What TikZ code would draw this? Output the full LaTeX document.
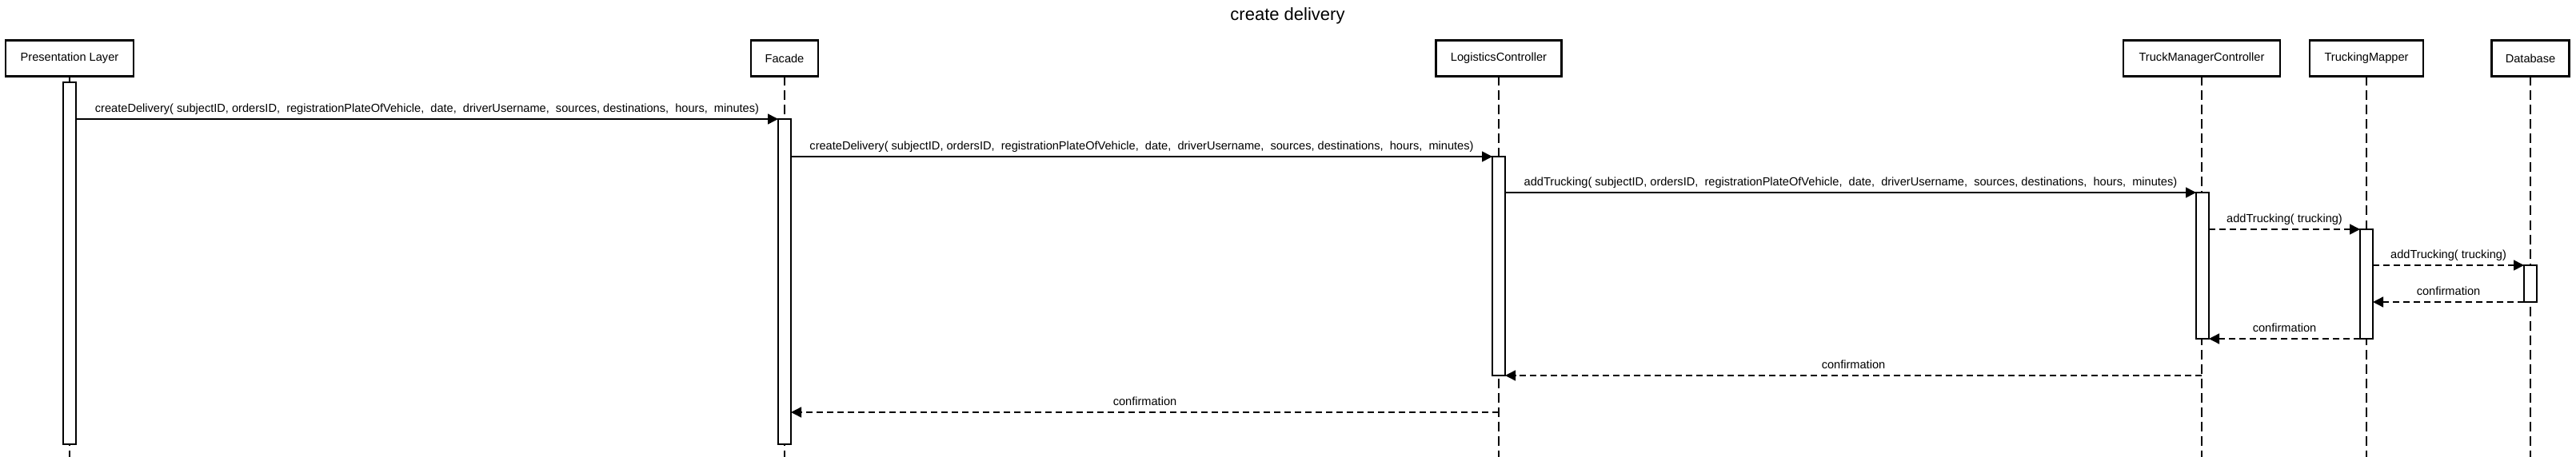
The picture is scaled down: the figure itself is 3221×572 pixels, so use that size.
\documentclass[tikz,border=0pt]{standalone}
\usepackage{fontspec}
\setmainfont{Liberation Sans}
\usetikzlibrary{arrows.meta}

\begin{document}
\begin{tikzpicture}[x=0.5pt,y=-0.5pt,
    party/.style={draw,line width=1.2pt,minimum height=22.5pt,inner sep=0pt,outer sep=0pt,font=\fontsize{7.3}{8}\selectfont},
    lifeline/.style={line width=0.6pt,dash pattern=on 6pt off 3pt},
    act/.style={draw,fill=white,line width=0.7pt,minimum width=8pt,inner sep=0pt,outer sep=0pt,anchor=north},
    call/.style={line width=0.75pt,-{Triangle[length=6.5pt,width=6.5pt]}},
    reply/.style={call,dash pattern=on 4pt off 2.5pt},
    lbl/.style={above,inner sep=1.5pt,text depth=0.25em,font=\fontsize{7.3}{8}\selectfont}]
  \useasboundingbox (0,0) rectangle (3221,572);
  \node[font=\fontsize{11}{13}\selectfont] (title) at (1610,20) {create delivery};
  \node[party,minimum width=80pt] (pl) at (87,73) {Presentation Layer};
  \node[party,minimum width=42pt] (fac) at (981,73) {Facade};
  \node[party,minimum width=78.5pt] (lc) at (1874,73) {LogisticsController};
  \node[party,minimum width=98pt] (tmc) at (2753,73) {TruckManagerController};
  \node[party,minimum width=71pt] (tm) at (2959,73) {TruckingMapper};
  \node[party,minimum width=48.5pt] (db) at (3164,73) {Database};
  \foreach \p in {pl,fac,lc,tmc,tm,db}
    \draw[lifeline] (\p.south) -- (\p.south |- 0,572);
  \node[act,minimum height=226.5pt] (plact) at (87,103) {};
  \node[act,minimum height=203.5pt] (facact) at (981,149) {};
  \node[act,minimum height=137pt] (lcact) at (1874,196) {};
  \node[act,minimum height=91.5pt] (tmcact) at (2754,241) {};
  \node[act,minimum height=68.5pt] (tmact) at (2959,287) {};
  \node[act,minimum height=23pt] (dbact) at (3164,332) {};
  \coordinate (back) at (1874,516);
  \draw[call] (plact.east |- facact.north) -- (facact.north west)
    node[lbl,midway] (m1) {createDelivery( subjectID, ordersID,~ registrationPlateOfVehicle,~ date,~ driverUsername,~ sources, destinations,~ hours,~ minutes)};
  \draw[call] (facact.east |- lcact.north) -- (lcact.north west)
    node[lbl,midway] (m2) {createDelivery( subjectID, ordersID,~ registrationPlateOfVehicle,~ date,~ driverUsername,~ sources, destinations,~ hours,~ minutes)};
  \draw[call] (lcact.east |- tmcact.north) -- (tmcact.north west)
    node[lbl,midway] (m3) {addTrucking( subjectID, ordersID,~ registrationPlateOfVehicle,~ date,~ driverUsername,~ sources, destinations,~ hours,~ minutes)};
  \draw[reply] (tmcact.east |- tmact.north) -- (tmact.north west)
    node[lbl,midway] (m4) {addTrucking( trucking)};
  \draw[reply] (tmact.east |- dbact.north) -- (dbact.north west)
    node[lbl,midway] (m5) {addTrucking( trucking)};
  \draw[reply] (dbact.south west) -- (tmact.east |- dbact.south)
    node[lbl,midway] (r1) {confirmation};
  \draw[reply] (tmact.south west) -- (tmcact.south east)
    node[lbl,midway] (r2) {confirmation};
  \draw[reply] (tmc |- lcact.south) -- (lcact.south east)
    node[lbl,midway] (r3) {confirmation};
  \draw[reply] (back) -- (facact.east |- back)
    node[lbl,midway] (r4) {confirmation};
\end{tikzpicture}
\end{document}
